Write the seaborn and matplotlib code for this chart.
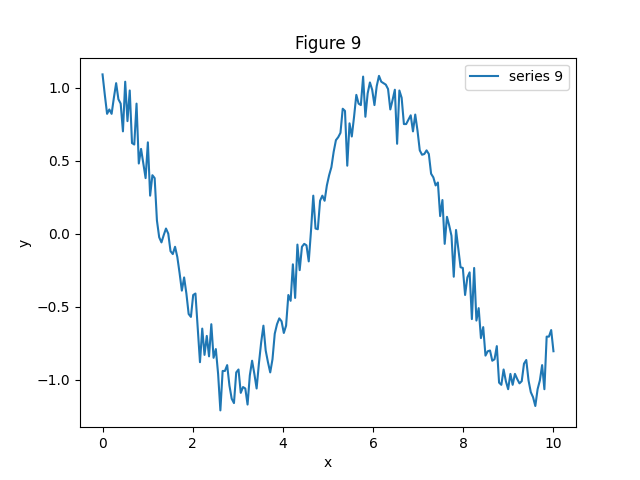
import numpy as np
import pandas as pd
import matplotlib
matplotlib.use("Agg")
import matplotlib.pyplot as plt
import seaborn as sns

# values, left to right (200 samples on 0..10)
y_part1 = [1.09, 0.95, 0.82, 0.85, 0.82, 0.93, 1.03, 0.92, 0.89, 0.70,
           1.04, 0.77, 0.98, 0.62, 0.61, 0.89, 0.48, 0.58, 0.48, 0.38,
           0.625, 0.26, 0.40, 0.38, 0.09, -0.025, -0.06, -0.01, 0.035, 0.0,
           -0.12, -0.14, -0.09, -0.16, -0.27, -0.39, -0.30, -0.41, -0.55, -0.57,
           -0.42, -0.41, -0.64, -0.88, -0.65, -0.83, -0.70, -0.84, -0.62, -0.85]
y_part2 = [-0.79, -0.96, -1.21, -0.94, -0.94, -0.90, -1.04, -1.13, -1.16, -0.95,
           -0.93, -1.09, -1.05, -1.06, -1.17, -0.97, -0.87, -0.96, -1.06, -0.89,
           -0.745, -0.63, -0.80, -0.88, -0.95, -0.86, -0.685, -0.62, -0.58, -0.60,
           -0.68, -0.63, -0.42, -0.46, -0.21, -0.44, -0.075, -0.25, -0.09, -0.07,
           -0.08, -0.19, 0.02, 0.26, 0.035, 0.03, 0.225, 0.26, 0.225]
y_part3 = [0.33, 0.40, 0.455, 0.56, 0.64, 0.66, 0.69, 0.855, 0.84, 0.465,
           0.755, 0.665, 0.80, 0.95, 0.89, 0.88, 1.075, 0.80, 0.96, 1.035,
           0.985, 0.88, 1.01, 1.08, 1.04, 1.03, 1.02, 0.99, 0.85, 0.915,
           0.985, 0.615, 0.98, 0.93, 0.75, 0.75, 0.78, 0.81, 0.70, 0.815,
           0.705, 0.57, 0.54, 0.545, 0.57, 0.545, 0.41, 0.385, 0.33]
y_part4 = [0.35, 0.12, 0.23, -0.07, 0.115, 0.055, -0.015, -0.295, 0.025, -0.105,
           -0.23, -0.235, -0.42, -0.30, -0.265, -0.585, -0.235, -0.595, -0.51, -0.715,
           -0.64, -0.835, -0.805, -0.80, -0.87, -0.86, -0.77, -1.02, -1.035, -0.93,
           -1.01, -1.065, -0.96, -1.035, -0.96, -0.995, -1.025, -1.01, -0.89, -0.865,
           -1.005, -1.085, -1.12, -1.18, -1.065, -1.005, -0.90, -1.065, -0.705, -0.705,
           -0.66, -0.805]

y_vals = y_part1 + y_part2 + y_part3 + y_part4
x_vals = np.linspace(0, 10, len(y_vals))

df = pd.DataFrame({"x": x_vals, "y": y_vals})

fig, ax = plt.subplots(figsize=(6.4, 4.8), dpi=100)
sns.lineplot(data=df, x="x", y="y", ax=ax, label="series 9", color="#1f77b4")
ax.set_title("Figure 9")
ax.set_xlabel("x")
ax.set_ylabel("y")
ax.legend(loc="upper right")

fig.savefig("out.png", dpi=100)
